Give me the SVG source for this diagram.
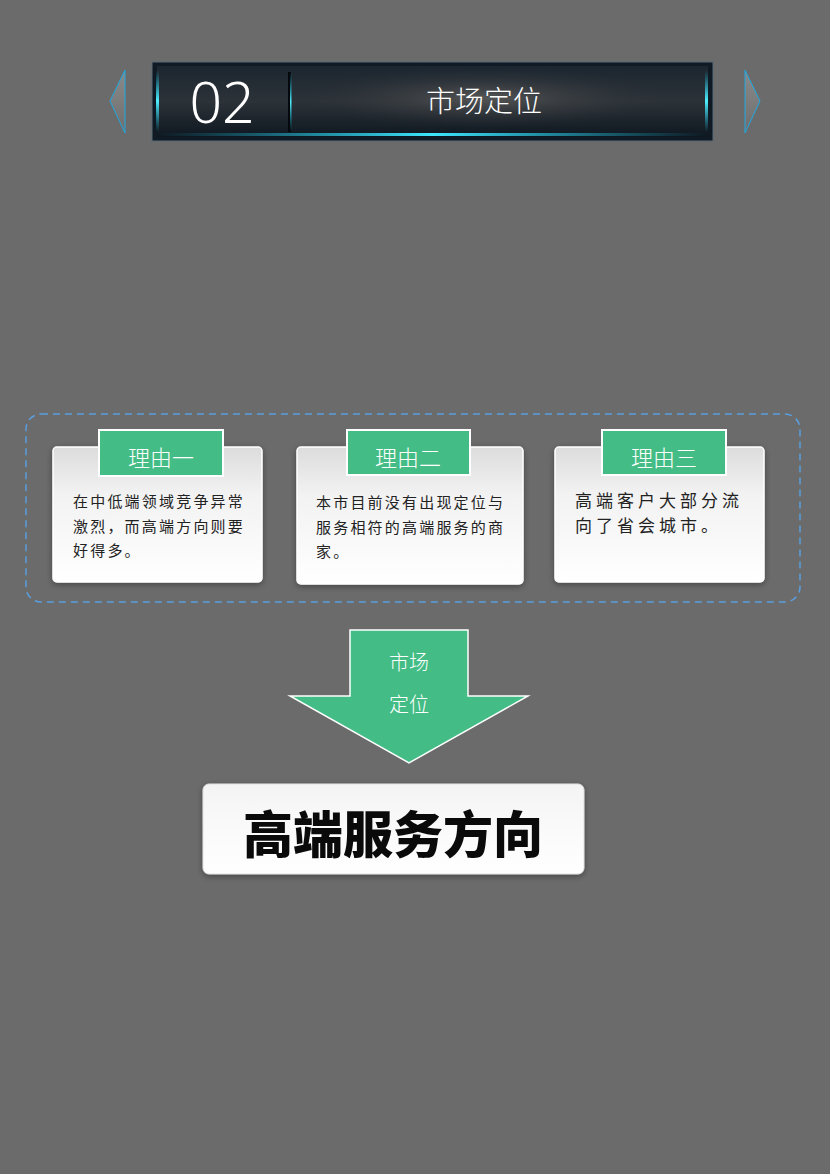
<svg xmlns="http://www.w3.org/2000/svg" width="830" height="1174" viewBox="0 0 830 1174">
<defs>
<linearGradient id="barG" x1="0" y1="0" x2="0" y2="1">
<stop offset="0" stop-color="#1c2630"/>
<stop offset="0.5" stop-color="#2c3238"/>
<stop offset="1" stop-color="#0e1720"/>
</linearGradient>
<radialGradient id="barGlow" cx="0.5" cy="0.45" r="0.5">
<stop offset="0" stop-color="#5a5a5a" stop-opacity="0.9"/>
<stop offset="1" stop-color="#2a2f35" stop-opacity="0"/>
</radialGradient>
<linearGradient id="cyanLine" x1="0" y1="0" x2="1" y2="0">
<stop offset="0" stop-color="#17c6e8" stop-opacity="0"/>
<stop offset="0.5" stop-color="#3fe6ff"/>
<stop offset="1" stop-color="#17c6e8" stop-opacity="0"/>
</linearGradient>
<linearGradient id="cyanV" x1="0" y1="0" x2="0" y2="1">
<stop offset="0" stop-color="#17c6e8" stop-opacity="0"/>
<stop offset="0.5" stop-color="#4ff0ff"/>
<stop offset="1" stop-color="#17c6e8" stop-opacity="0"/>
</linearGradient>
<linearGradient id="cardG" x1="0" y1="0" x2="0" y2="1">
<stop offset="0" stop-color="#dcdcdc"/>
<stop offset="0.35" stop-color="#f2f2f2"/>
<stop offset="1" stop-color="#ffffff"/>
</linearGradient>
<linearGradient id="resG" x1="0" y1="0" x2="0" y2="1">
<stop offset="0" stop-color="#f4f4f4"/>
<stop offset="1" stop-color="#ffffff"/>
</linearGradient>
<linearGradient id="triG" x1="0" y1="0" x2="0" y2="1">
<stop offset="0" stop-color="#8a8a8a"/>
<stop offset="1" stop-color="#6e6e6e"/>
</linearGradient>
<filter id="sh" x="-10%" y="-10%" width="120%" height="130%">
<feDropShadow dx="0" dy="2" stdDeviation="3" flood-color="#000" flood-opacity="0.35"/>
</filter>
</defs>
<style>
.cn{font-family:"Noto Sans CJK SC","Noto Sans",sans-serif;}
.tab{fill:#43bd85;stroke:#ffffff;stroke-width:2;}
.tabT{fill:#ffffff;font-size:22px;text-anchor:middle;font-weight:300;}
.card{fill:url(#cardG);stroke:#ffffff;stroke-width:1.5;filter:url(#sh);}
.body{fill:#222222;font-size:15px;letter-spacing:2.2px;}
.body3{fill:#222222;font-size:17px;letter-spacing:4px;}
</style>
<rect width="830" height="1174" fill="#6b6b6b"/>

<g id="header">
<polygon points="125,70 110,101 125,133" fill="url(#triG)" stroke="#1ea8e0" stroke-width="1"/>
<polygon points="745,70 760,101 745,133" fill="url(#triG)" stroke="#1ea8e0" stroke-width="1"/>
<rect x="152" y="62" width="561" height="79" fill="#0f1a24" stroke="#5a6a78" stroke-width="1"/>
<rect x="157" y="66" width="551" height="71" fill="url(#barG)"/>
<rect x="300" y="70" width="370" height="62" fill="url(#barGlow)"/>
<rect x="157" y="133" width="551" height="3" fill="url(#cyanLine)"/>
<rect x="156" y="70" width="3" height="62" fill="url(#cyanV)"/>
<rect x="705" y="70" width="3" height="62" fill="url(#cyanV)"/>
<rect x="288" y="72" width="3" height="60" fill="#05090d"/>
<rect x="290" y="72" width="1.5" height="60" fill="url(#cyanV)"/>
<text x="222" y="123" font-size="57" fill="#ffffff" text-anchor="middle" font-weight="300" font-family="Noto Sans, sans-serif">02</text>
<text x="484" y="112" class="cn" font-size="29" fill="#ffffff" text-anchor="middle" font-weight="300">市场定位</text>
</g>

<g id="reasons-frame">
<rect x="26" y="414" width="774" height="188" rx="15" fill="none" stroke="#5a9fe0" stroke-width="1.5" stroke-dasharray="7,5"/>
</g>

<g id="reason1">
<rect x="53" y="447" width="209" height="135" rx="4" class="card"/>
<rect x="99" y="430" width="124" height="46" class="tab"/>
<text x="161" y="466" class="cn tabT">理由一</text>
<text class="cn body" x="73" y="507">在中低端领域竞争异常</text>
<text class="cn body" x="73" y="532">激烈，而高端方向则要</text>
<text class="cn body" x="73" y="556">好得多。</text>
</g>

<g id="reason2">
<rect x="297" y="447" width="226" height="137" rx="4" class="card"/>
<rect x="347" y="430" width="123" height="45" class="tab"/>
<text x="408" y="466" class="cn tabT">理由二</text>
<text class="cn body" x="316" y="508">本市目前没有出现定位与</text>
<text class="cn body" x="316" y="533">服务相符的高端服务的商</text>
<text class="cn body" x="316" y="557">家。</text>
</g>

<g id="reason3">
<rect x="555" y="447" width="209" height="135" rx="4" class="card"/>
<rect x="602" y="430" width="124" height="45" class="tab"/>
<text x="664" y="466" class="cn tabT">理由三</text>
<text class="cn body3" x="575" y="507">高端客户大部分流</text>
<text class="cn body3" x="575" y="532">向了省会城市。</text>
</g>

<g id="connectors">
<g id="arrow">
<polygon points="350,630 468,630 468,696 528,696 409,763 290,696 350,696" fill="#43bd85" stroke="#ffffff" stroke-width="1.5" stroke-linejoin="miter"/>
<text x="409" y="670" class="cn" font-size="20" fill="#ffffff" text-anchor="middle" font-weight="300">市场</text>
<text x="409" y="712" class="cn" font-size="20" fill="#ffffff" text-anchor="middle" font-weight="300">定位</text>
</g>
</g>

<g id="result">
<rect x="203" y="784" width="381" height="90" rx="6" fill="url(#resG)" stroke="#e0e0e0" stroke-width="1" filter="url(#sh)"/>
<text x="393" y="853" class="cn" font-size="50" font-weight="900" fill="#0a0a0a" text-anchor="middle">高端服务方向</text>
</g>
</svg>
